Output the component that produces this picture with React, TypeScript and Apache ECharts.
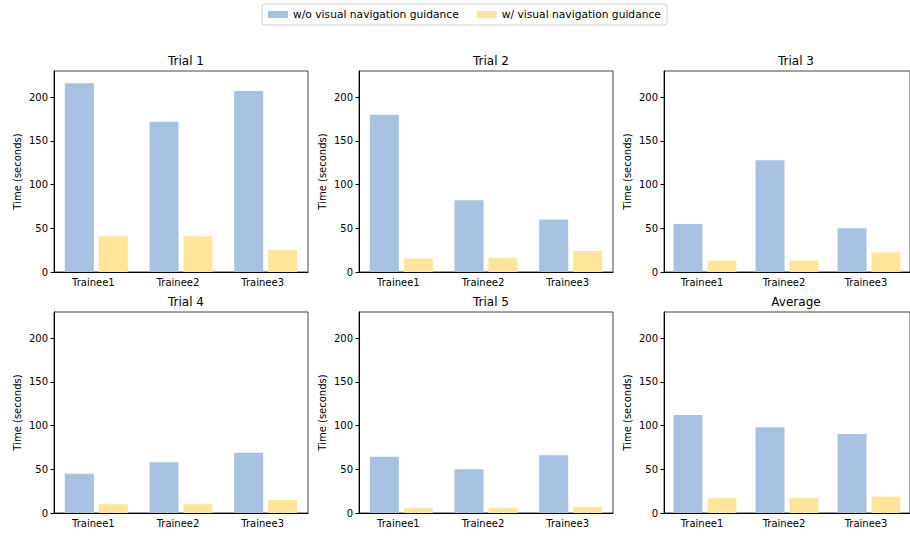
import React, { useEffect, useRef } from "react";
import * as echarts from "echarts";

const categories = ["Trainee1", "Trainee2", "Trainee3"];
const panelTitles = ["Trial 1", "Trial 2", "Trial 3", "Trial 4", "Trial 5", "Average"];
const seriesNames = ["w/o visual navigation guidance", "w/ visual navigation guidance"];
const withoutGuidance = [
  [216, 172, 207],
  [180, 82, 60],
  [55, 128, 50],
  [45, 58, 69],
  [64.5, 50, 66],
  [112, 98, 90.4],
];
const withGuidance = [
  [41, 41, 25],
  [15.5, 16, 24],
  [13, 13, 22.5],
  [10, 10, 15],
  [6, 6, 7],
  [17, 17.2, 18.7],
];
const yTicks = { min: 0, max: 230, interval: 50 };
const colors = ["#a6c1e1", "#fee59a"];

export default function App() {
  const ref = useRef<HTMLDivElement>(null);
  useEffect(() => {
    if (!ref.current) return;
    const chart = echarts.init(ref.current, undefined, { renderer: "svg" });
    const lefts = [54, 359, 664];
    const tops = [71, 312];
    const W = 254;
    const H = 201;
    const font = "DejaVu Sans";
    const grids: any[] = [];
    const xAxes: any[] = [];
    const yAxes: any[] = [];
    const series: any[] = [];
    const titles: any[] = [];
    for (let i = 0; i < 6; i++) {
      const r = Math.floor(i / 3);
      const c = i % 3;
      grids.push({
        left: lefts[c],
        top: tops[r],
        width: W,
        height: H,
        show: true,
        borderColor: "#444",
        borderWidth: 1,
        containLabel: false,
      });
      titles.push({
        text: panelTitles[i],
        left: lefts[c] + W / 2,
        top: tops[r] - 21,
        textAlign: "center",
        textStyle: { fontFamily: font, fontSize: 12, fontWeight: "normal", color: "#000" },
      });
      xAxes.push({
        type: "category",
        gridIndex: i,
        data: categories,
        axisLine: { lineStyle: { color: "#000", width: 1 } },
        axisTick: { alignWithLabel: true, length: 3.5, lineStyle: { color: "#000" } },
        axisLabel: {
          fontFamily: font,
          fontSize: 10,
          color: "#000",
          margin: 5,
          padding: [0, 6, 0, 0],
        },
      });
      yAxes.push({
        type: "value",
        gridIndex: i,
        min: yTicks.min,
        max: yTicks.max,
        interval: yTicks.interval,
        name: "Time (seconds)",
        nameLocation: "middle",
        nameGap: 32,
        nameTextStyle: { fontFamily: font, fontSize: 10, color: "#000" },
        axisLine: { show: true, lineStyle: { color: "#000", width: 1 } },
        axisTick: { show: true, length: 3.5, lineStyle: { color: "#000" } },
        axisLabel: {
          fontFamily: font,
          fontSize: 10,
          color: "#000",
          margin: 6,
          showMaxLabel: false,
          formatter: (v: number) => (v % 50 === 0 ? String(v) : ""),
        },
        splitLine: { show: false },
      });
      series.push({
        type: "bar",
        name: seriesNames[0],
        xAxisIndex: i,
        yAxisIndex: i,
        data: withoutGuidance[i],
        barWidth: 29,
        barGap: "17%",
        itemStyle: { color: colors[0] },
      });
      series.push({
        type: "bar",
        name: seriesNames[1],
        xAxisIndex: i,
        yAxisIndex: i,
        data: withGuidance[i],
        barWidth: 29,
        barGap: "17%",
        itemStyle: { color: colors[1] },
      });
    }
    chart.setOption({
      animation: false,
      backgroundColor: "#fff",
      title: titles,
      legend: {
        top: 4,
        left: 262,
        data: seriesNames,
        itemWidth: 20,
        itemHeight: 7,
        itemGap: 18,
        padding: [5, 6, 5, 6],
        borderColor: "#d0d0d0",
        borderWidth: 1,
        borderRadius: 3,
        icon: "rect",
        textStyle: { fontFamily: font, fontSize: 10.7, color: "#000" },
      },
      grid: grids,
      xAxis: xAxes,
      yAxis: yAxes,
      series,
    });
    return () => chart.dispose();
  }, []);
  return (
    <div
      ref={ref}
      style={{ position: "fixed", left: 0, top: 0, width: 910, height: 536 }}
    />
  );
}
